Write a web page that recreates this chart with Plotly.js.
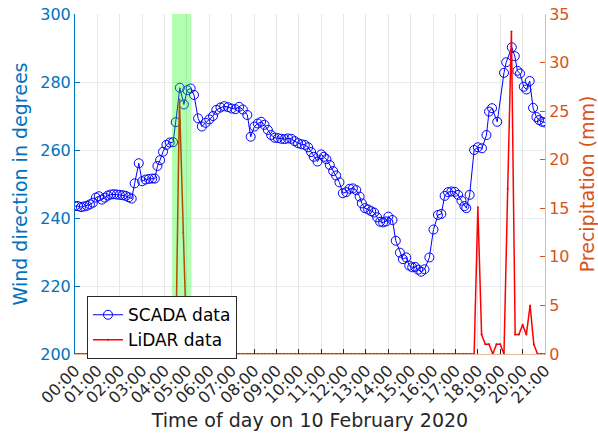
<!DOCTYPE html>
<html><head><meta charset="utf-8">
<script src="https://cdn.plot.ly/plotly-3.0.1.min.js"></script>
<style>html,body{margin:0;padding:0;background:#fff}#chart{width:598px;height:436px}</style>
</head><body><div id="chart"></div>
<script>
const day = '2020-02-10 ';

// SCADA wind direction (degrees), time of day
const scadaTime = ['00:00','00:08','00:16','00:24','00:32','00:40','00:48','00:56','01:04','01:12','01:20','01:28','01:36','01:44','01:52','02:00','02:08','02:16','02:24','02:32','02:40','02:51','03:00','03:09','03:18','03:27','03:34','03:41','03:48','03:56','04:05','04:14','04:23','04:30','04:41','04:52','05:01','05:10','05:19','05:30','05:40','05:50','06:00','06:10','06:19','06:30','06:40','06:50','07:00','07:10','07:20','07:30','07:42','07:51','08:01','08:10','08:19','08:28','08:37','08:46','08:55','09:04','09:13','09:22','09:31','09:40','09:49','09:58','10:07','10:16','10:25','10:33','10:40','10:50','11:00','11:07','11:14','11:23','11:32','11:40','11:49','11:58','12:07','12:16','12:25','12:34','12:43','12:49','12:57','13:06','13:14','13:22','13:30','13:38','13:46','13:54','14:00','14:11','14:20','14:31','14:39','14:48','14:56','15:04','15:12','15:20','15:28','15:37','15:50','16:01','16:13','16:22','16:31','16:40','16:49','16:58','17:07','17:16','17:24','17:29','17:38','17:50','18:00','18:11','18:23','18:30','18:38','18:52','19:10','19:16','19:31','19:39','19:46','19:53','20:03','20:10','20:19','20:28','20:37','20:44','20:52','21:00'];
const scadaDir = [243.5,243.5,243.2,243.4,243.6,244.0,244.5,246.0,246.4,245.4,246.0,246.6,246.9,247.0,246.9,246.8,246.7,246.5,246.1,245.7,250.2,256.1,250.8,251.3,251.5,251.6,251.6,255.3,257.0,259.5,261.5,262.2,262.3,268.2,278.3,273.4,277.6,278.1,276.2,269.3,266.9,268.0,269.0,270.0,271.8,272.5,272.9,272.6,272.2,272.0,272.7,271.9,270.3,263.9,266.9,267.8,268.3,267.4,265.9,264.4,263.6,263.5,263.3,263.2,263.4,263.3,262.6,262.0,261.7,261.5,260.8,259.4,258.0,256.6,258.7,258.0,257.3,255.6,253.8,252.5,250.5,247.3,247.6,248.6,248.7,248.2,246.3,244.3,242.9,242.5,242.0,241.6,240.2,238.9,238.7,239.0,240.4,239.4,233.3,229.8,227.9,228.4,226.0,225.5,225.6,224.8,224.2,224.9,228.4,236.6,240.9,241.2,246.5,247.6,247.8,247.7,246.8,245.1,243.5,242.9,246.8,260.0,260.8,260.5,264.4,271.3,272.3,268.3,282.7,285.8,290.2,287.6,283.3,282.5,278.6,277.8,280.3,272.4,269.7,268.8,268.3,268.1];

// LiDAR precipitation (mm), every 10 minutes from 00:00 to 21:00
const lidarPrecip = [
  0,0,0,0,0,0,      // 00
  0,0,0,0,0,0,      // 01
  0,0,0,0,0,0,      // 02
  0,0,0,0,0,0,      // 03
  0,0,0,0,26.2,12.5,// 04
  0,0,0,0,0,0,      // 05
  0,0,0,0,0,0,      // 06
  0,0,0,0,0,0,      // 07
  0,0,0,0,0,0,      // 08
  0,0,0,0,0,0,      // 09
  0,0,0,0,0,0,      // 10
  0,0,0,0,0,0,      // 11
  0,0,0,0,0,0,      // 12
  0,0,0,0,0,0,      // 13
  0,0,0,0,0,0,      // 14
  0,0,0,0,0,0,      // 15
  0,0,0,0,0,0,      // 16
  0,0,0,0,0,0,      // 17
  15.1,2.0,1.0,1.0,0,1.0, // 18
  1.0,0,17,33.2,2.0,2.0,  // 19
  3.0,2.0,5.0,1.0,0,0,    // 20
  0                       // 21:00
];

const tickLabels = ['00:00','01:00','02:00','03:00','04:00','05:00','06:00','07:00','08:00','09:00','10:00','11:00','12:00','13:00','14:00','15:00','16:00','17:00','18:00','19:00','20:00','21:00'];
const rainWindow = ['04:20','05:12'];

function pad(n){return (n<10?'0':'')+n;}
const lidarTime = lidarPrecip.map((_, i) => day + pad(Math.floor(i*10/60)) + ':' + pad((i*10)%60));

const blue = '#0072BD', orange = '#D95319';

const traces = [
  {
    x: scadaTime.map(t => day + t), y: scadaDir, name: 'SCADA data',
    type: 'scatter', mode: 'lines+markers', yaxis: 'y',
    line: {color: 'blue', width: 1},
    marker: {symbol: 'circle-open', size: 9, color: 'blue', line: {width: 1, color: 'blue'}}
  },
  {
    x: lidarTime, y: lidarPrecip, name: 'LiDAR data',
    type: 'scatter', mode: 'lines+markers', yaxis: 'y2',
    line: {color: 'red', width: 1.5},
    marker: {symbol: 'circle', size: 2, color: 'red'}
  }
];

const layout = {
  width: 598, height: 436,
  margin: {l: 75, r: 53, t: 14, b: 82},
  paper_bgcolor: 'white', plot_bgcolor: 'white',
  font: {family: 'DejaVu Sans', size: 16, color: '#262626'},
  showlegend: true,
  legend: {x: 0.0255, y: 0.17, xanchor: 'left', yanchor: 'top', bgcolor: 'white',
           bordercolor: '#262626', borderwidth: 1, font: {size: 17, color: '#000'}, tracegroupgap: 0},
  xaxis: {
    type: 'date', range: [day + '00:00', day + '21:00'],
    tickmode: 'array', tickvals: tickLabels.map(t => day + t), ticktext: tickLabels,
    tickangle: -45, tickfont: {size: 16, color: '#262626'},
    showgrid: true, gridcolor: '#e6e6e6', gridwidth: 1,
    ticks: 'inside', ticklen: 5, tickcolor: '#262626',
    showline: true, linecolor: '#e8b89a', zeroline: false,
    title: {text: 'Time of day on 10 February 2020', font: {size: 19, color: '#262626'}}
  },
  yaxis: {
    range: [200, 300], tick0: 200, dtick: 20,
    tickfont: {size: 16, color: blue}, ticks: 'inside', ticklen: 5, tickcolor: blue,
    showgrid: true, gridcolor: '#e6ecf2', showline: true, linecolor: blue, zeroline: false,
    title: {text: 'Wind direction in degrees', font: {size: 19, color: blue}}
  },
  yaxis2: {
    overlaying: 'y', side: 'right', range: [0, 35], tick0: 0, dtick: 5,
    tickfont: {size: 16, color: orange}, ticks: 'inside', ticklen: 5, tickcolor: orange,
    showgrid: false, showline: true, linecolor: '#eeb49a', zeroline: false,
    title: {text: 'Precipitation (mm)', font: {size: 19, color: orange}}
  },
  shapes: [{
    type: 'rect', xref: 'x', yref: 'paper',
    x0: day + rainWindow[0], x1: day + rainWindow[1], y0: 0, y1: 1,
    fillcolor: 'rgba(0,255,0,0.3)', line: {width: 0}, layer: 'above'
  }]
};

Plotly.newPlot('chart', traces, layout, {displayModeBar: false, staticPlot: true});
</script>
</body></html>
